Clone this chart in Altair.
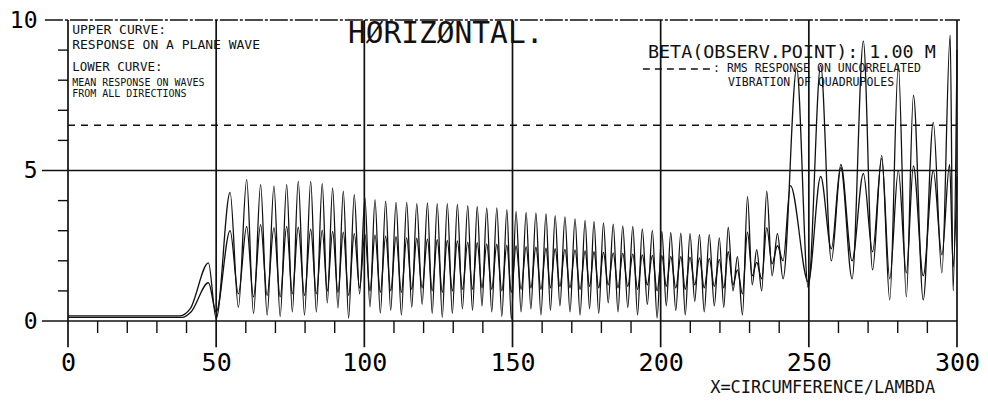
import altair as alt
import pandas as pd

# ---------------- data ----------------
# upper curve: response on a plane wave (peaks and troughs)
upper_curve = [
    (0, 0.17), (37.8, 0.17), (41.2, 0.40), (47.4, 1.93), (50.0, 0.08),
    (54.7, 4.27), (57.5, 0.45), (60.3, 4.70), (62.6, 0.25), (65.0, 4.53),
    (67.2, 0.20), (69.5, 4.48), (71.6, 0.15), (73.8, 4.53), (75.7, 0.30),
    (77.7, 4.64), (79.8, 0.20), (81.9, 4.64), (83.8, 0.30), (85.8, 4.56),
    (87.5, 0.60), (89.3, 4.42), (91.1, 0.43), (92.9, 4.31), (94.7, 0.10),
    (96.6, 4.20), (98.4, 0.90), (100.2, 4.09), (101.9, 0.47), (103.6, 4.03),
    (105.4, 0.26), (107.2, 3.98), (108.9, 0.35), (110.7, 3.94), (112.5, 0.20),
    (114.3, 3.94), (116.0, 0.45), (117.7, 3.90), (119.5, 0.55), (121.3, 3.92),
    (122.9, 0.25), (124.6, 3.90), (126.3, 0.12), (128.0, 3.90), (129.7, 0.25),
    (131.4, 3.87), (133.1, 0.40), (134.9, 3.83), (136.5, 0.35), (138.1, 3.81),
    (139.7, 0.50), (141.3, 3.76), (143.0, 0.30), (144.7, 3.76), (146.4, 0.15),
    (148.1, 3.70), (149.6, 0.05), (151.2, 3.64), (152.9, 0.30), (154.6, 3.61),
    (156.2, 0.40), (157.9, 3.59), (159.6, 0.20), (161.3, 3.57), (162.8, 0.35),
    (164.4, 3.50), (166.0, 0.50), (167.7, 3.46), (169.4, 0.30), (171.1, 3.39),
    (172.8, 0.20), (174.5, 3.34), (176.0, 0.40), (177.5, 3.31), (179.1, 0.25),
    (180.7, 3.26), (182.3, 0.60), (184.0, 3.22), (185.6, 0.30), (187.2, 3.16),
    (188.9, 0.45), (190.6, 3.14), (192.2, 0.20), (193.8, 3.06), (195.5, 0.55),
    (197.2, 3.01), (198.8, 0.10), (200.4, 2.98), (201.9, 0.50), (203.4, 2.94),
    (205.1, 0.35), (206.8, 2.92), (208.3, 0.20), (209.9, 2.90), (211.5, 0.65),
    (213.1, 2.87), (214.7, 0.30), (216.4, 2.87), (218.1, 0.50), (219.8, 2.76),
    (221.3, 0.45), (222.8, 3.12), (224.4, 1.00), (225.9, 2.14), (227.6, 0.20),
    (229.3, 4.14), (230.9, 1.20), (232.4, 2.37), (234.1, 1.00), (235.8, 4.31),
    (237.6, 1.50), (239.4, 2.90), (241.3, 1.40), (245.9, 8.40), (249.8, 1.10),
    (254.0, 8.50), (257.6, 2.00), (260.8, 5.10), (264.6, 1.40), (268.4, 9.30),
    (271.5, 1.70), (274.6, 5.50), (277.3, 0.70), (280.2, 8.50), (282.9, 0.80),
    (285.3, 7.50), (288.6, 0.70), (292.0, 6.60), (294.9, 1.60), (297.7, 9.50),
    (298.7, 1.00), (300.0, 9.00),
]

# lower curve: mean response on waves from all directions
lower_curve = [
    (0, 0.12), (38.5, 0.12), (41.5, 0.30), (47.4, 1.27), (50.0, 0.30),
    (54.7, 3.00), (57.5, 0.90), (60.3, 3.14), (62.6, 0.80), (65.0, 3.20),
    (67.2, 0.85), (69.5, 3.10), (71.6, 0.80), (73.8, 3.14), (75.7, 0.90),
    (77.7, 3.12), (79.8, 0.85), (81.9, 3.05), (83.8, 0.90), (85.8, 3.02),
    (87.5, 1.00), (89.3, 2.98), (91.1, 0.95), (92.9, 2.95), (94.7, 0.85),
    (96.6, 2.90), (98.4, 1.10), (100.2, 2.88), (101.9, 1.00), (103.6, 2.85),
    (105.4, 0.95), (107.2, 2.82), (108.9, 1.00), (110.7, 2.80), (112.5, 0.95),
    (114.3, 2.76), (116.0, 1.05), (117.7, 2.75), (119.5, 1.10), (121.3, 2.72),
    (122.9, 1.00), (124.6, 2.70), (126.3, 0.95), (128.0, 2.68), (129.7, 1.00),
    (131.4, 2.66), (133.1, 1.05), (134.9, 2.62), (136.5, 1.05), (138.1, 2.60),
    (139.7, 1.10), (141.3, 2.56), (143.0, 1.05), (144.7, 2.55), (146.4, 1.00),
    (148.1, 2.52), (149.6, 0.95), (151.2, 2.50), (152.9, 1.05), (154.6, 2.47),
    (156.2, 1.10), (157.9, 2.45), (159.6, 1.05), (161.3, 2.42), (162.8, 1.10),
    (164.4, 2.40), (166.0, 1.15), (167.7, 2.38), (169.4, 1.10), (171.1, 2.36),
    (172.8, 1.05), (174.5, 2.33), (176.0, 1.15), (177.5, 2.30), (179.1, 1.10),
    (180.7, 2.28), (182.3, 1.20), (184.0, 2.26), (185.6, 1.10), (187.2, 2.25),
    (188.9, 1.15), (190.6, 2.22), (192.2, 1.05), (193.8, 2.20), (195.5, 1.20),
    (197.2, 2.18), (198.8, 1.00), (200.4, 2.17), (201.9, 1.15), (203.4, 2.15),
    (205.1, 1.10), (206.8, 2.14), (208.3, 1.05), (209.9, 2.12), (211.5, 1.20),
    (213.1, 2.10), (214.7, 1.10), (216.4, 2.08), (218.1, 1.15), (219.8, 2.05),
    (221.3, 1.10), (222.8, 2.30), (224.4, 1.20), (225.9, 1.70), (227.6, 0.90),
    (229.3, 2.95), (230.9, 1.50), (232.4, 1.95), (234.1, 1.40), (235.8, 3.10),
    (237.6, 1.90), (239.4, 2.50), (241.3, 2.00), (243.8, 4.50), (249.8, 1.30),
    (254.0, 4.80), (257.6, 2.40), (260.8, 5.20), (264.6, 2.00), (268.4, 4.90),
    (271.5, 2.30), (274.6, 5.40), (277.3, 1.40), (280.2, 5.00), (282.9, 1.60),
    (285.3, 5.15), (288.6, 1.50), (292.0, 5.00), (294.9, 2.20), (297.5, 5.20),
    (298.7, 1.80), (300.0, 4.80),
]

x_major = [0, 50, 100, 150, 200, 250, 300]
x_minor = [10, 20, 30, 40, 60, 70, 80, 90, 110, 120, 130, 140, 160, 170, 180,
           190, 210, 220, 230, 240, 260, 270, 280, 290]
y_ticks = [0, 5, 10]
y_minor = [1, 2, 3, 4, 6, 7, 8, 9]
rms_level = 6.5

notes_text = ["UPPER CURVE:", "RESPONSE ON A PLANE WAVE", "LOWER CURVE:",
              "MEAN RESPONSE ON WAVES", "FROM ALL DIRECTIONS",
              "HØRIZØNTAL.", "BETA(OBSERV.POINT):  1.00 M",
              ": RMS RESPONSE ON UNCORRELATED", "VIBRATION OF QUADRUPOLES",
              "X=CIRCUMFERENCE/LAMBDA"]
notes_x = [1.4, 1.4, 1.4, 1.4, 1.4, 94.5, 195.7, 217.7, 222.7, 216.7]
notes_y = [9.67, 9.17, 8.45, 7.92, 7.55, 9.53, 8.93, 8.37, 7.9, -2.23]
notes_size = [13, 13, 12.5, 10, 10, 29.5, 18.4, 11.5, 11.5, 17]

# ---------------- build tables ----------------
curves = pd.DataFrame(
    [{"x": x, "y": y, "s": "upper"} for x, y in upper_curve]
    + [{"x": x, "y": y, "s": "lower"} for x, y in lower_curve]
)

FONT = "DejaVu Sans Mono"
xscale = alt.Scale(domain=[0, 300], nice=False, zero=False)
yscale = alt.Scale(domain=[0, 10], nice=False, zero=False)
xaxis = alt.Axis(values=x_major, domain=False, ticks=False, tickSize=0, grid=False,
                 labelFont=FONT, labelFontSize=25, labelColor="black",
                 labelPadding=29, labelFlush=False, title=None)
yaxis = alt.Axis(values=y_ticks, domain=False, ticks=False, tickSize=0, grid=False,
                 labelFont=FONT, labelFontSize=23, labelColor="black",
                 labelPadding=31, title=None)


def X(f="x"):
    return alt.X(f"{f}:Q", scale=xscale, axis=xaxis)


def Y(f="y"):
    return alt.Y(f"{f}:Q", scale=yscale, axis=yaxis)


BLACK = "#111111"

vmaj = alt.Chart(pd.DataFrame({"x": x_major, "y": [-0.87] * len(x_major),
                               "y2": [10] * len(x_major)})).mark_rule(
    color=BLACK, strokeWidth=1.7).encode(x=X(), y=Y(), y2="y2:Q")

vmin = alt.Chart(pd.DataFrame({"x": x_minor, "y": [0] * len(x_minor),
                               "y2": [-0.4] * len(x_minor)})).mark_rule(
    color=BLACK, strokeWidth=1.4).encode(x=X(), y=Y(), y2="y2:Q")

ymin = alt.Chart(pd.DataFrame({"y": y_minor, "x": [-3.4] * len(y_minor),
                               "x2": [0] * len(y_minor)})).mark_rule(
    color=BLACK, strokeWidth=1.4).encode(y=Y(), x=X(), x2="x2:Q")

hlines = alt.Chart(pd.DataFrame({"y": [0, 5], "x": [-8.8, -8.8],
                                 "x2": [300, 300]})).mark_rule(
    color=BLACK, strokeWidth=1.7).encode(y=Y(), x=X(), x2="x2:Q")

topline = alt.Chart(pd.DataFrame({"y": [10], "x": [-7.8], "x2": [301]})).mark_rule(
    color=BLACK, strokeWidth=1.5, strokeDash=[18, 2, 3, 2]).encode(
    y=Y(), x=X(), x2="x2:Q")

rms = alt.Chart(pd.DataFrame({"y": [rms_level], "x": [0], "x2": [300]})).mark_rule(
    color=BLACK, strokeWidth=1.5, strokeDash=[7, 6]).encode(y=Y(), x=X(), x2="x2:Q")

legdash = alt.Chart(pd.DataFrame({"y": [8.37], "x": [194.0], "x2": [216.7]})).mark_rule(
    color=BLACK, strokeWidth=1.5, strokeDash=[7, 5]).encode(y=Y(), x=X(), x2="x2:Q")

lines = alt.Chart(curves).mark_line(
    color=BLACK, strokeWidth=1.3, interpolate="monotone").encode(
    x=X(), y=Y(), detail="s:N")

notes = alt.Chart(pd.DataFrame({"t": notes_text, "x": notes_x, "y": notes_y,
                                "fs": notes_size})).mark_text(
    font=FONT, align="left", baseline="middle", color=BLACK).encode(
    x=X(), y=Y(), text="t:N", size=alt.Size("fs:Q", scale=None, legend=None))

chart = alt.layer(vmaj, vmin, ymin, hlines, topline, rms, legdash, lines, notes).properties(
    width=889, height=301,
    autosize=alt.AutoSizeParams(type="none"),
    padding={"left": 60, "top": 12, "right": 23, "bottom": 77},
    background="white",
).configure_view(strokeWidth=0)

chart.save("out.html", embed_options={"renderer": "svg", "actions": False})
